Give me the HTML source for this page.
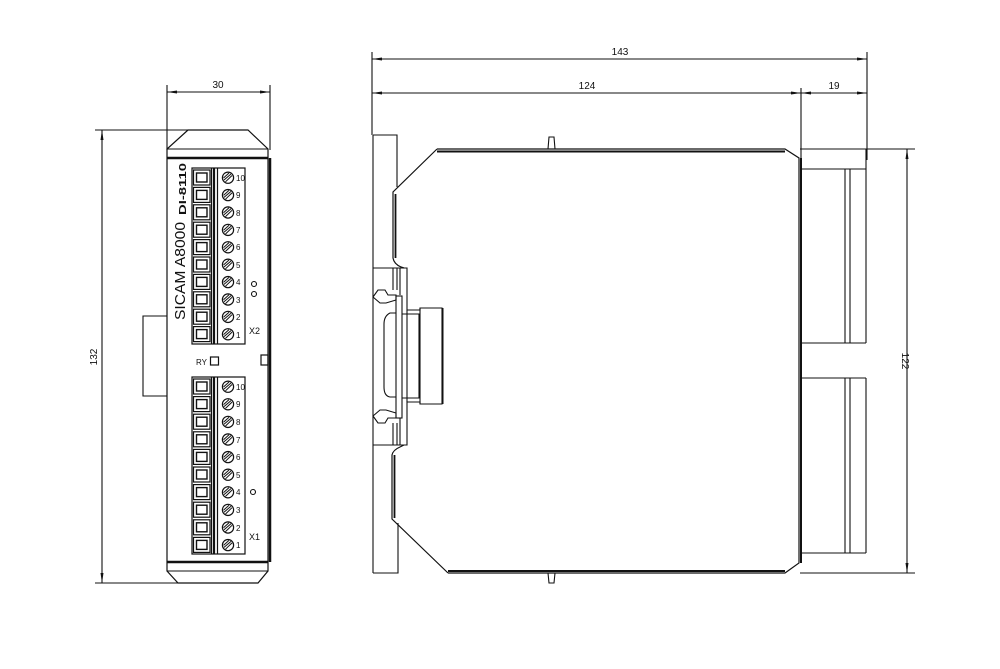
<!DOCTYPE html>
<html><head><meta charset="utf-8"><style>
html,body{margin:0;padding:0;background:#fff;}
svg{display:block;}
text{font-family:"Liberation Sans",sans-serif;fill:#111;}
</style></head><body>
<svg width="1000" height="669" viewBox="0 0 1000 669" xmlns="http://www.w3.org/2000/svg">
<defs>
<g id="row" stroke="#111" fill="none">
<rect x="193.5" y="1" width="16.5" height="15" stroke-width="1.2"/>
<rect x="196.5" y="4" width="10.5" height="9" stroke-width="1.4"/>
<circle cx="228" cy="8.7" r="5.6" stroke-width="1.2"/>
<line x1="224" y1="11" x2="231" y2="5" stroke-width="1"/>
<line x1="225.5" y1="12.8" x2="232" y2="6.5" stroke-width="1"/>
<line x1="223.5" y1="9" x2="229" y2="4" stroke-width="1"/>
</g>
<marker id="ar" viewBox="0 0 10 4" refX="10" refY="2" markerWidth="10" markerHeight="4" orient="auto-start-reverse" markerUnits="userSpaceOnUse"><path d="M0,0.5 L10,2 L0,3.5z" fill="#111"/></marker>
</defs>

<g stroke="#111" fill="none" stroke-width="1.1">
<line x1="167" y1="85" x2="167" y2="150"/>
<line x1="270" y1="85" x2="270" y2="150"/>
<line x1="167" y1="92" x2="270" y2="92" marker-start="url(#ar)" marker-end="url(#ar)"/>
<line x1="95" y1="130" x2="190" y2="130"/>
<line x1="95" y1="583" x2="180" y2="583"/>
<line x1="102" y1="130" x2="102" y2="583" marker-start="url(#ar)" marker-end="url(#ar)"/>

<path d="M188,130 L248,130 L268,149 L268,571 L258,583 L178,583 L167,571 L167,149 Z" stroke-width="1.2"/>
<line x1="167" y1="149" x2="268" y2="149"/>
<line x1="167" y1="158" x2="268" y2="158" stroke-width="2.4"/>
<line x1="167" y1="562" x2="268" y2="562" stroke-width="2.4"/>
<line x1="167" y1="571" x2="268" y2="571"/>
<line x1="270" y1="158" x2="270" y2="562" stroke-width="2.5"/>
<path d="M167,316 L143,316 L143,396 L167,396"/>
<rect x="192" y="168" width="53" height="176" stroke-width="1.2"/>
<line x1="211.5" y1="168" x2="211.5" y2="344" stroke-width="1.2"/>
<line x1="214" y1="168" x2="214" y2="344" stroke-width="2.2"/>
<line x1="217.5" y1="168" x2="217.5" y2="344" stroke-width="1.2"/>
<rect x="192" y="377" width="53" height="177" stroke-width="1.2"/>
<line x1="211.5" y1="377" x2="211.5" y2="554" stroke-width="1.2"/>
<line x1="214" y1="377" x2="214" y2="554" stroke-width="2.2"/>
<line x1="217.5" y1="377" x2="217.5" y2="554" stroke-width="1.2"/>
<rect x="210.5" y="357" width="8" height="8" stroke-width="1.2"/>
<rect x="261" y="355" width="7" height="10" stroke-width="1.2"/>
<circle cx="254" cy="284" r="2.5"/>
<circle cx="254" cy="294" r="2.5"/>
<circle cx="253" cy="492" r="2.5"/>
</g>
<g>
<use href="#row" y="169"/><use href="#row" y="186.4"/><use href="#row" y="203.8"/><use href="#row" y="221.2"/><use href="#row" y="238.6"/>
<use href="#row" y="256"/><use href="#row" y="273.4"/><use href="#row" y="290.8"/><use href="#row" y="308.2"/><use href="#row" y="325.6"/>
<use href="#row" y="378"/><use href="#row" y="395.6"/><use href="#row" y="413.2"/><use href="#row" y="430.8"/><use href="#row" y="448.4"/>
<use href="#row" y="466"/><use href="#row" y="483.6"/><use href="#row" y="501.2"/><use href="#row" y="518.8"/><use href="#row" y="536.4"/>
</g>
<g font-size="8">
<text x="236" y="181">10</text><text x="236" y="198">9</text><text x="236" y="216">8</text><text x="236" y="233">7</text><text x="236" y="250">6</text>
<text x="236" y="268">5</text><text x="236" y="285">4</text><text x="236" y="303">3</text><text x="236" y="320">2</text><text x="236" y="338">1</text>
<text x="236" y="390">10</text><text x="236" y="407">9</text><text x="236" y="425">8</text><text x="236" y="443">7</text><text x="236" y="460">6</text>
<text x="236" y="478">5</text><text x="236" y="495">4</text><text x="236" y="513">3</text><text x="236" y="531">2</text><text x="236" y="548">1</text>
<text x="249" y="334" font-size="9">X2</text>
<text x="249" y="540" font-size="9">X1</text>
<text x="196" y="365" font-size="8">RY</text>
</g>
<text transform="translate(185,320) rotate(-90)" font-size="15" textLength="98" lengthAdjust="spacingAndGlyphs">SICAM A8000</text>
<text transform="translate(186,215) rotate(-90)" font-size="10" font-weight="bold" textLength="52" lengthAdjust="spacingAndGlyphs">DI-8110</text>
<text x="218" y="88" font-size="10" text-anchor="middle">30</text>
<text transform="translate(97,357) rotate(-90)" font-size="10" text-anchor="middle">132</text>

<g stroke="#111" fill="none" stroke-width="1.1">
<line x1="372" y1="52" x2="372" y2="135"/>
<line x1="867" y1="52" x2="867" y2="160"/>
<line x1="801" y1="88" x2="801" y2="160"/>
<line x1="372" y1="59" x2="867" y2="59" marker-start="url(#ar)" marker-end="url(#ar)"/>
<line x1="372" y1="93" x2="801" y2="93" marker-start="url(#ar)" marker-end="url(#ar)"/>
<line x1="801" y1="93" x2="867" y2="93" marker-start="url(#ar)" marker-end="url(#ar)"/>
<line x1="800" y1="149" x2="915" y2="149"/>
<line x1="800" y1="573" x2="915" y2="573"/>
<line x1="907" y1="149" x2="907" y2="573" marker-start="url(#ar)" marker-end="url(#ar)"/>

<path d="M373,135 L397,135 L397,187"/>
<line x1="373" y1="135" x2="373" y2="573"/>
<path d="M373,573 L398,573 L398,523"/>
<path d="M437,149 L785,149 L799,158 L799,563 L785,573 L448,573" stroke-width="1.2"/>
<line x1="437" y1="151.5" x2="785" y2="151.5" stroke-width="2"/>
<line x1="448" y1="571" x2="785" y2="571" stroke-width="2"/>
<path d="M437,149 L393,192 L393,258 Q394,264 401,267 L404,268" stroke-width="1.2"/>
<line x1="395.5" y1="194" x2="395.5" y2="258" stroke-width="1.8"/>
<path d="M404,445 L400,447 Q393,450 392,455 L392,519 L448,573" stroke-width="1.2"/>
<line x1="394.5" y1="455" x2="394.5" y2="518" stroke-width="1.8"/>
<path d="M548,149 L549,137 L554,137 L555,149"/>
<path d="M548,573 L549,583 L554,583 L555,573"/>
<line x1="801" y1="149" x2="867" y2="149"/>
<line x1="801" y1="169" x2="866" y2="169"/>
<line x1="866" y1="149" x2="866" y2="343"/>
<line x1="845" y1="169" x2="845" y2="343"/>
<line x1="850" y1="169" x2="850" y2="343"/>
<line x1="801" y1="343" x2="866" y2="343"/>
<line x1="801" y1="378" x2="866" y2="378"/>
<line x1="866" y1="378" x2="866" y2="553"/>
<line x1="845" y1="378" x2="845" y2="553"/>
<line x1="850" y1="378" x2="850" y2="553"/>
<line x1="801" y1="553" x2="866" y2="553"/>
<line x1="801" y1="158" x2="801" y2="563" stroke-width="2"/>
<path d="M373,268 L407,268 L407,310 L420,310 L420,308 L442,308 L442,404 L420,404 L420,402 L407,402 L407,445 L373,445"/>
<path d="M373,297 L378,290 L385,290 L388,295 L396,295 L396,300 L386,303 L380,303 L373,297"/>
<path d="M373,416 L380,410 L386,410 L396,413 L396,418 L388,418 L385,423 L378,423 L373,416"/>
<line x1="393" y1="268" x2="393" y2="290"/><line x1="397" y1="268" x2="397" y2="290"/><line x1="400" y1="268" x2="400" y2="295"/>
<line x1="393" y1="423" x2="393" y2="445"/><line x1="397" y1="423" x2="397" y2="445"/><line x1="400" y1="418" x2="400" y2="445"/>
<rect x="396" y="296" width="6" height="122"/>
<path d="M402,314 L419,314 L419,398 L402,398"/>
<path d="M396,313 L390,313 Q384,316 384,324 L384,387 Q384,396 390,397 L396,397"/>
<line x1="420" y1="308" x2="420" y2="404"/>
<line x1="442.5" y1="308" x2="442.5" y2="404" stroke-width="2"/>
<line x1="407" y1="310" x2="407" y2="402"/>
</g>
<text x="620" y="55" font-size="10" text-anchor="middle">143</text>
<text x="587" y="89" font-size="10" text-anchor="middle">124</text>
<text x="834" y="89" font-size="10" text-anchor="middle">19</text>
<text transform="translate(902,361) rotate(90)" font-size="10" text-anchor="middle">122</text>
</svg>
</body></html>
